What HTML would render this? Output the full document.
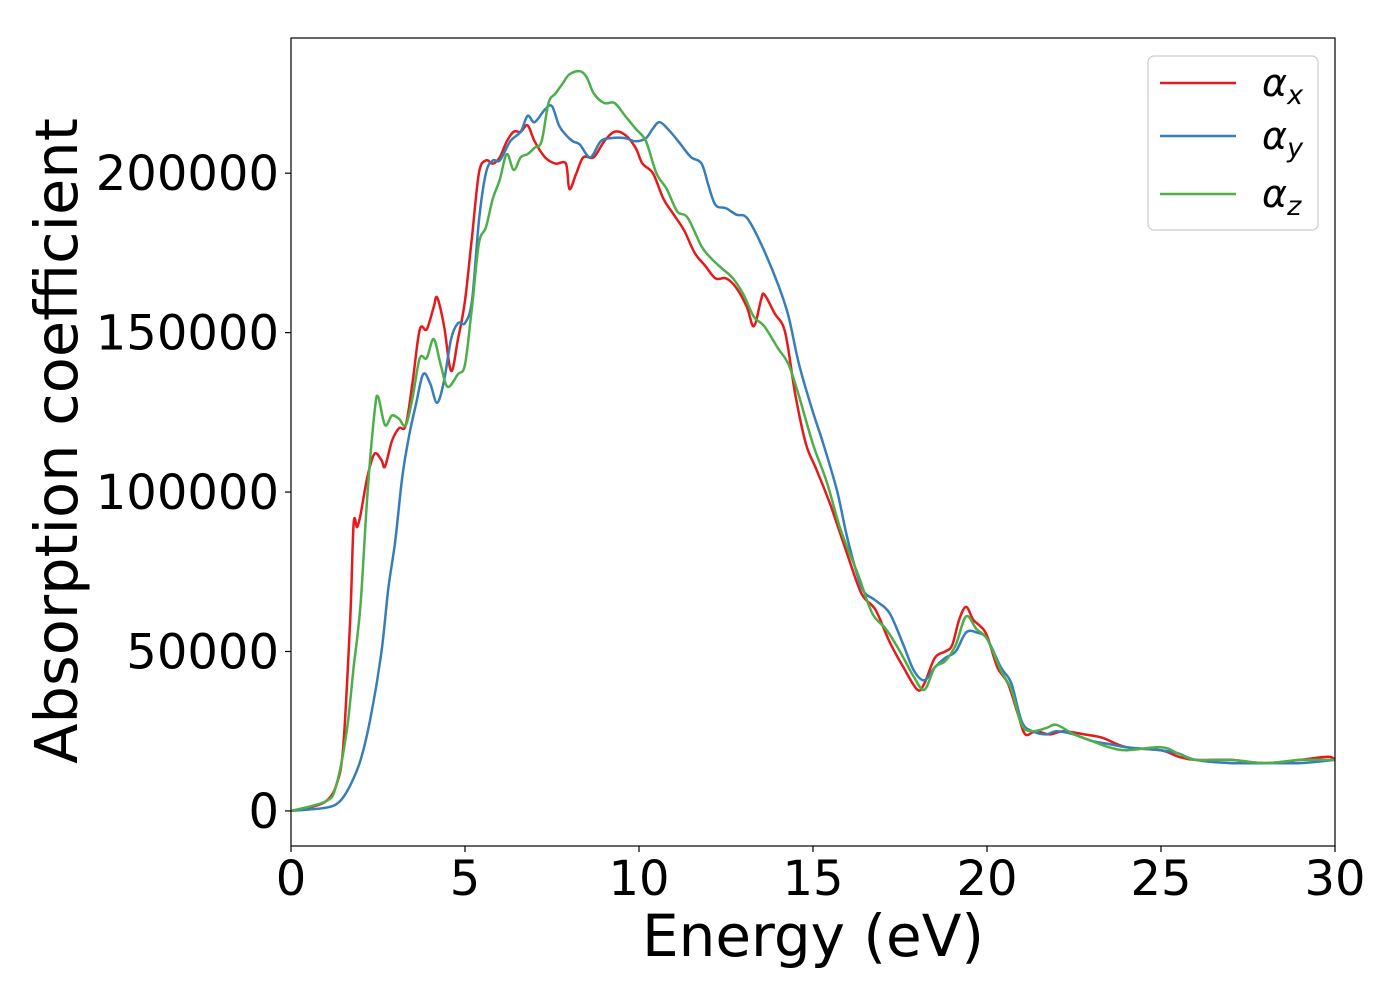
<!DOCTYPE html>
<html><head><meta charset="utf-8"><style>
html,body{margin:0;padding:0;background:#fff;}
svg{display:block;font-family:"DejaVu Sans","Liberation Sans",sans-serif;}
</style></head><body>
<svg id="chart" width="1400" height="1000">
<rect x="0" y="0" width="1400" height="1000" fill="#fff"/>
<g id="plot"></g>
</svg>
<script>
const xTicks=[0,5,10,15,20,25,30];
const yTicks=[0,50000,100000,150000,200000];
const seriesNames=["x","y","z"];
const seriesColors=["#e41a1c","#377eb8","#4daf4a"];
const redE=[0,0.5,1.0,1.3,1.5,1.7,1.8,1.9,2.0,2.2,2.4,2.6,2.7,2.9,3.1,3.3,3.5,3.7,3.9,4.1,4.2,4.4,4.6,4.8,5.0,5.2,5.4,5.6,5.8,6.0,6.2,6.4,6.6,6.8,7.0,7.3,7.6,7.9,8.0,8.2,8.4,8.7,9.0,9.3,9.6,9.9,10.1,10.4,10.7,11.0,11.3,11.6,11.9,12.2,12.5,12.8,13.1,13.3,13.5,13.6,13.9,14.2,14.5,14.8,15.1,15.5,16.0,16.4,16.8,17.2,17.6,18.0,18.2,18.5,18.8,19.0,19.2,19.4,19.6,19.8,20.0,20.3,20.6,20.9,21.1,21.4,21.8,22.2,22.8,23.3,24.0,25.0,25.5,26.0,27,28,29,29.8,30];
const redV=[0,1,3,8,20,60,90,89,93,105,112,110,108,116,120,121,135,151,151,158,161,152,138,148,160,180,200,204,203,205,210,213,213,215,210,205,203,203,195,200,205,205,210,213,212,208,203,200,192,187,182,175,171,167,167,164,158,152,160,162,156,150,130,115,107,96,80,68,63,53,45,38,40,48,50,52,60,64,60,58,55,45,40,30,24,25,24,25,24,23,20,19,17,16,16,15,16,17,16];
const blueE=[0,1.0,1.4,1.7,2.0,2.3,2.6,2.8,3.0,3.2,3.4,3.6,3.8,4.0,4.2,4.4,4.6,4.8,5.0,5.2,5.4,5.6,5.8,6.0,6.3,6.6,6.8,7.0,7.3,7.5,7.7,7.9,8.1,8.3,8.6,8.9,9.2,9.6,9.9,10.2,10.4,10.6,10.9,11.2,11.5,11.8,12.0,12.2,12.5,12.8,13.1,13.5,14.0,14.3,14.6,15.0,15.3,15.7,16.0,16.4,16.8,17.2,17.6,17.9,18.2,18.5,18.8,19.1,19.4,19.7,20.0,20.4,20.7,21.0,21.3,21.7,22.0,22.5,23.0,23.5,24.0,25.0,25.5,26.0,27,28,29,30];
const blueV=[0,1,3,8,16,30,50,70,85,105,118,128,137,134,128,135,148,153,153,160,185,200,204,204,210,213,218,216,220,221,215,212,210,209,205,210,211,211,210,211,214,216,213,209,205,203,196,190,189,187,186,178,165,155,140,125,115,100,85,70,66,62,52,44,41,45,48,50,56,56,54,45,40,28,25,24,25,24,22,21,20,19,18,16,15,15,15,16];
const greenE=[0,1.0,1.3,1.6,1.8,2.0,2.2,2.4,2.5,2.7,2.9,3.1,3.3,3.5,3.7,3.9,4.1,4.3,4.5,4.8,5.0,5.2,5.4,5.6,5.8,6.0,6.2,6.4,6.6,6.8,7.0,7.2,7.4,7.6,7.8,8.0,8.3,8.5,8.7,9.0,9.3,9.6,9.9,10.2,10.5,10.8,11.1,11.4,11.8,12.1,12.4,12.7,13.0,13.3,13.6,14.0,14.3,14.6,15.0,15.4,15.8,16.3,16.7,17.1,17.5,17.9,18.2,18.5,18.8,19.1,19.4,19.7,20.0,20.4,20.7,21.0,21.3,21.7,22.0,22.5,23.0,23.5,24.0,25.0,25.5,26.0,27,28,29,30];
const greenV=[0,3,8,25,45,65,100,125,130,121,124,123,121,130,142,142,148,140,133,137,140,158,178,183,192,198,206,201,205,206,208,210,222,225,228,231,232,230,225,222,222,218,214,210,200,195,188,186,177,173,170,167,162,155,152,145,140,130,115,103,88,74,62,57,50,42,38,45,47,52,61,57,54,44,38,27,25,26,27,24,22,20,19,20,18,16,16,15,16,16];

const L=291,R=1335,T=38,B=846;
const xMin=0,xMax=30,yMin=-11000,yMax=242400;
const sx=v=>L+(v-xMin)/(xMax-xMin)*(R-L);
const sy=v=>B-(v-yMin)/(yMax-yMin)*(B-T);
const NS="http://www.w3.org/2000/svg";
const g=document.getElementById('plot');
function mk(tag,attrs,parent){const e=document.createElementNS(NS,tag);for(const k in attrs)e.setAttribute(k,attrs[k]);(parent||g).appendChild(e);return e;}

function smoothPath(xs,ys){
  const p=xs.map((x,i)=>[sx(x),sy(ys[i]*1000)]);
  let d="M"+p[0][0].toFixed(1)+","+p[0][1].toFixed(1);
  for(let i=0;i<p.length-1;i++){
    const p0=p[Math.max(0,i-1)],p1=p[i],p2=p[i+1],p3=p[Math.min(p.length-1,i+2)];
    const c1=[p1[0]+(p2[0]-p0[0])/6,p1[1]+(p2[1]-p0[1])/6];
    const c2=[p2[0]-(p3[0]-p1[0])/6,p2[1]-(p3[1]-p1[1])/6];
    d+="C"+c1[0].toFixed(1)+","+c1[1].toFixed(1)+" "+c2[0].toFixed(1)+","+c2[1].toFixed(1)+" "+p2[0].toFixed(1)+","+p2[1].toFixed(1);
  }
  return d;
}
const clip=mk('clipPath',{id:'pc'});mk('rect',{x:L,y:T,width:R-L,height:B-T},clip);
const sData=[[redE,redV],[blueE,blueV],[greenE,greenV]];
const sg=mk('g',{'clip-path':'url(#pc)'});
sData.forEach((s,i)=>{
  const p=mk('path',{d:smoothPath(s[0],s[1]),fill:'none',stroke:seriesColors[i],'stroke-width':2.5,'stroke-linejoin':'round'},sg);
  
  
});
const frame=mk('rect',{x:L,y:T,width:R-L,height:B-T,fill:'none',stroke:'#000','stroke-width':1.2});


xTicks.forEach(t=>{
  const x=sx(t);
  mk('line',{x1:x,x2:x,y1:B,y2:B+6,stroke:'#000','stroke-width':1.2});
  const tx=mk('text',{x:x,y:B+49,'font-size':48,'text-anchor':'middle',fill:'#000'});
  tx.textContent=t;
  
  
});
yTicks.forEach(t=>{
  const y=sy(t);
  mk('line',{x1:L-6,x2:L,y1:y,y2:y,stroke:'#000','stroke-width':1.2});
  const tx=mk('text',{x:L-12,y:y+17,'font-size':48,'text-anchor':'end',fill:'#000'});
  tx.textContent=t;
  
  
});
const xt=mk('text',{x:813,y:956,'font-size':58,'text-anchor':'middle',fill:'#000'});
xt.textContent='Energy (eV)';


const yt=mk('text',{x:0,y:0,'font-size':59,'text-anchor':'middle',fill:'#000',transform:'translate(77,441) rotate(-90)'});
yt.textContent='Absorption coefficient';


const lg=mk('g',{});


mk('rect',{x:1148,y:56,width:170,height:174,rx:6,fill:'#fff','fill-opacity':0.8,stroke:'#ccc','stroke-width':1.2},lg);
const ly=[83,136,194];
seriesNames.forEach((n,i)=>{
  const e=mk('g',{},lg);
  
  
  mk('line',{x1:1160,x2:1236,y1:ly[i],y2:ly[i],stroke:seriesColors[i],'stroke-width':2.5},e);
  const t=mk('text',{x:1262,y:ly[i]+13,'font-size':38,'font-style':'italic',fill:'#000'},e);
  t.textContent='α';
  const s=mk('tspan',{'font-size':27,dy:8},t);
  s.textContent=n;
});
</script>
</body></html>
